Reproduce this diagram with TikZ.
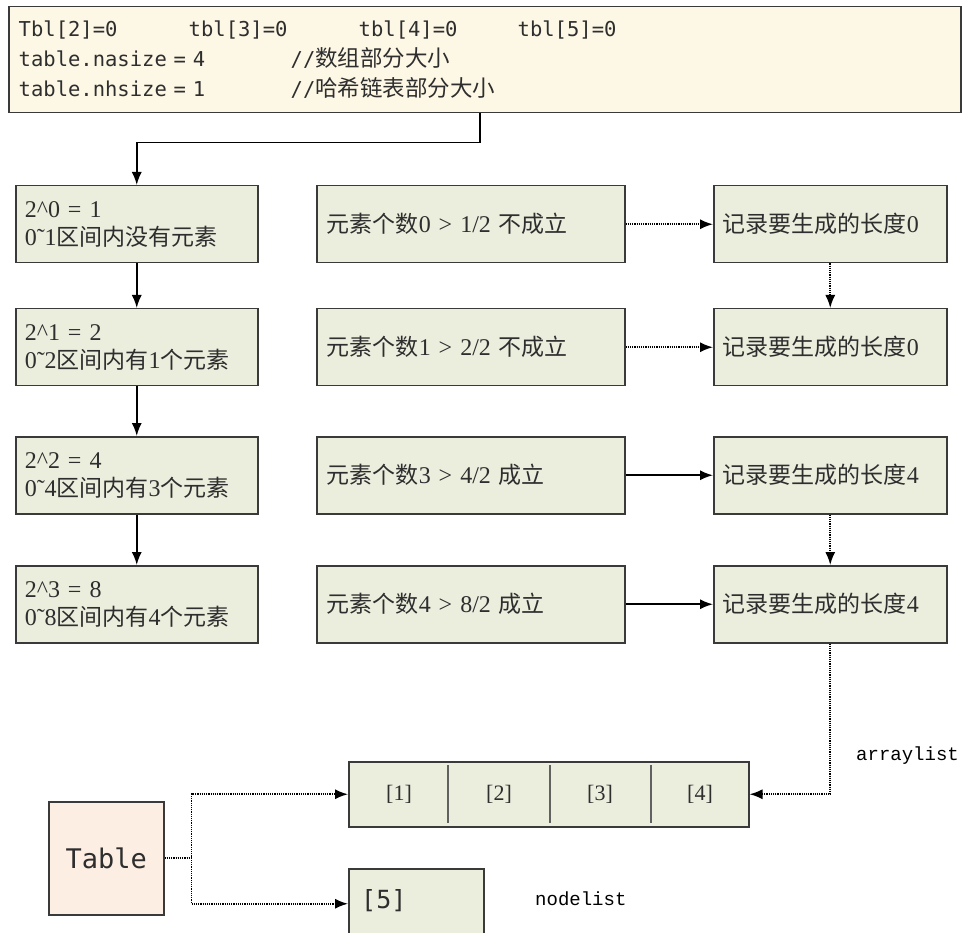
\documentclass[tikz,border=0pt]{standalone}
\usepackage{fontspec}
\usetikzlibrary{arrows.meta}
\setmainfont{Liberation Serif}
\newfontfamily\cjk{Noto Sans CJK SC}
\newfontfamily\lser[WordSpace=2]{Liberation Serif}
\newfontfamily\dmono{DejaVu Sans Mono}
\newfontfamily\lmono{Liberation Mono}
\definecolor{topfill}{HTML}{FDF7E5}
\definecolor{grfill}{HTML}{EBEEDD}
\definecolor{tbfill}{HTML}{FDEEE3}
\definecolor{edge}{HTML}{3A3A3A}
\definecolor{txt}{HTML}{2E2E2E}
\begin{document}
\begin{tikzpicture}[x=1pt,y=-1pt,
  box/.style={draw=edge,line width=1.5pt,fill=grfill,anchor=north west,rectangle,
    inner ysep=0pt,minimum height=77pt,align=left,text=txt,
    font=\lser\fontsize{24}{28}\selectfont},
  lbox/.style={box,minimum width=242pt,inner xsep=9pt,text width=224pt},
  mbox/.style={box,minimum width=308pt,inner xsep=10pt,text width=288pt},
  rbox/.style={box,minimum width=233pt,inner xsep=9pt,text width=215pt},
  conn/.style={draw=black,line width=1.6pt,-{Latex[length=13pt,width=10pt]}},
  connd/.style={conn,dash pattern=on 1.2pt off 1pt},
  lbl/.style={anchor=west,inner sep=0pt,text=black,font=\lmono\fontsize{19}{22}\selectfont},
  cell/.style={inner sep=0pt,text=txt,font=\lser\fontsize{22}{24}\selectfont}
]
\useasboundingbox (0,0) rectangle (967,933);

% top box
\node[draw=edge,line width=1.5pt,fill=topfill,anchor=north west,minimum width=952pt,
  minimum height=106pt,inner xsep=10pt,inner ysep=0pt,text width=932pt,align=left,
  text=txt,font=\dmono\fontsize{20.5}{30}\selectfont] (top) at (8,6)
  {\makebox[170pt][l]{Tbl[2]=0}\makebox[170pt][l]{tbl[3]=0}\makebox[159pt][l]{tbl[4]=0}tbl[5]=0\\
   \makebox[272pt][l]{table.nasize\ =\ 4}//{\cjk\fontsize{22.5}{30}\selectfont 数组部分大小}\\
   \makebox[272pt][l]{table.nhsize\ =\ 1}//{\cjk\fontsize{22.5}{30}\selectfont 哈希链表部分大小}};

% left column
\node[lbox] (b1) at (15,185) {2\textasciicircum0 = 1\\0˜1{\cjk\fontsize{23}{28}\selectfont 区间内没有元素}};
\node[lbox] (b2) at (15,308) {2\textasciicircum1 = 2\\0˜2{\cjk\fontsize{23}{28}\selectfont 区间内有}1{\cjk\fontsize{23}{28}\selectfont 个元素}};
\node[lbox] (b3) at (15,436) {2\textasciicircum2 = 4\\0˜4{\cjk\fontsize{23}{28}\selectfont 区间内有}3{\cjk\fontsize{23}{28}\selectfont 个元素}};
\node[lbox] (b4) at (15,565) {2\textasciicircum3 = 8\\0˜8{\cjk\fontsize{23}{28}\selectfont 区间内有}4{\cjk\fontsize{23}{28}\selectfont 个元素}};

% middle column
\node[mbox] (m1) at (316,185) {{\cjk\fontsize{23}{28}\selectfont 元素个数}0 > 1/2 {\cjk\fontsize{23}{28}\selectfont 不成立}};
\node[mbox] (m2) at (316,308) {{\cjk\fontsize{23}{28}\selectfont 元素个数}1 > 2/2 {\cjk\fontsize{23}{28}\selectfont 不成立}};
\node[mbox] (m3) at (316,436) {{\cjk\fontsize{23}{28}\selectfont 元素个数}3 > 4/2 {\cjk\fontsize{23}{28}\selectfont 成立}};
\node[mbox] (m4) at (316,565) {{\cjk\fontsize{23}{28}\selectfont 元素个数}4 > 8/2 {\cjk\fontsize{23}{28}\selectfont 成立}};

% right column
\node[rbox] (r1) at (713,185) {{\cjk\fontsize{23}{28}\selectfont 记录要生成的长度}0};
\node[rbox] (r2) at (713,308) {{\cjk\fontsize{23}{28}\selectfont 记录要生成的长度}0};
\node[rbox] (r3) at (713,436) {{\cjk\fontsize{23}{28}\selectfont 记录要生成的长度}4};
\node[rbox] (r4) at (713,565) {{\cjk\fontsize{23}{28}\selectfont 记录要生成的长度}4};

% array part
\node[draw=edge,line width=1.5pt,fill=grfill,anchor=north west,minimum width=400pt,
  minimum height=65pt,inner sep=0pt] (arr) at (348,761) {};
\draw[edge!80,line width=2.2pt] (448,765) -- (448,823) (550,765) -- (550,823) (651,765) -- (651,823);
\node[cell] (c1) at (399,794) {[1]};
\node[cell] (c2) at (499,794) {[2]};
\node[cell] (c3) at (600,794) {[3]};
\node[cell] (c4) at (700,794) {[4]};
\node[lbl] (al) at (856,756) {arraylist};

% hash part
\node[draw=edge,line width=1.5pt,fill=grfill,anchor=north west,minimum width=135pt,
  minimum height=70pt,inner sep=0pt] (nl) at (348,868) {};
\node[anchor=west,inner sep=0pt,text=txt,font=\dmono\fontsize{25}{28}\selectfont] (n5) at (361,901) {[5]};
\node[lbl] (nll) at (535,899) {nodelist};

% Table
\node[draw=edge,line width=1.5pt,fill=tbfill,anchor=north west,minimum width=115pt,
  minimum height=113pt,inner sep=0pt,text=txt,font=\dmono\fontsize{27}{30}\selectfont] (tbl) at (48,801) {Table};

% connectors
\draw[conn] (top.south) ++(-5,0) -- ++(0,29) -| (b1.north);
\draw[conn] (b1.south) -- (b2.north);
\draw[conn] (b2.south) -- (b3.north);
\draw[conn] (b3.south) -- (b4.north);
\draw[connd] (m1.east) -- (r1.west);
\draw[connd] (m2.east) -- (r2.west);
\draw[conn] (m3.east) -- (r3.west);
\draw[conn] (m4.east) -- (r4.west);
\draw[connd] (r1.south) -- (r2.north);
\draw[connd] (r3.south) -- (r4.north);
\draw[connd] (r4.south) |- (arr.east);
\draw[connd] (tbl.east) -- ++(27,0) |- (arr.west);
\draw[connd] (tbl.east) -- ++(27,0) |- (nl.west);
\end{tikzpicture}
\end{document}
